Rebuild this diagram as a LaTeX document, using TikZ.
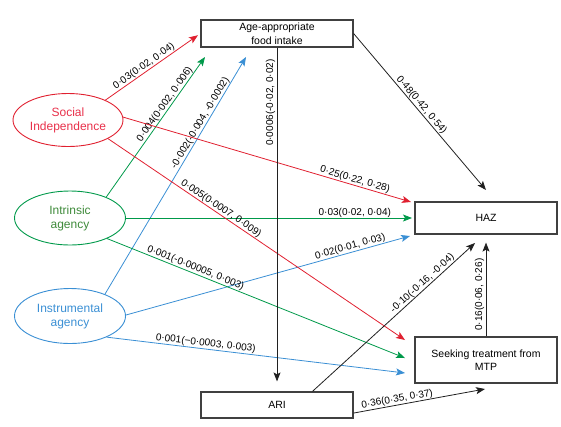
\documentclass[tikz,border=0pt]{standalone}
\usepackage{fontspec}
\setmainfont{Liberation Sans}
\usetikzlibrary{arrows.meta,shapes.geometric}
\definecolor{cred}{HTML}{E02030}
\definecolor{ctred}{HTML}{E8304A}
\definecolor{cgreen}{HTML}{00994A}
\definecolor{cgtext}{HTML}{3E8A3A}
\definecolor{cblue}{HTML}{3A8FD4}
\definecolor{cbox}{HTML}{404040}
\definecolor{cblk}{HTML}{202020}
\begin{document}
\begin{tikzpicture}[x=1pt,y=-1pt,
  box/.style={draw=cbox,line width=1.2pt,minimum width=152pt,minimum height=27pt,
    font=\fontsize{10.5}{13.5}\selectfont,align=center,inner sep=0pt},
  oval/.style={ellipse,draw,line width=0.9pt,minimum width=110pt,minimum height=53pt,
    font=\fontsize{12}{14}\selectfont,align=center,inner sep=0pt},
  conn/.style={line width=0.8pt,-{Stealth[length=9pt,width=7pt,inset=2pt]}},
  lbl/.style={font=\fontsize{10}{12}\selectfont,sloped,above,inner sep=0.5pt,text=black},
  vlbl/.style={font=\fontsize{10}{12}\selectfont,rotate=90,anchor=south,inner sep=1.5pt,text=black},
]
\useasboundingbox (0,0) rectangle (561,426);

% boxes
\node[box] (food) at (277,33.5) {Age-appropriate\\food intake};
\node[box,minimum width=142pt,minimum height=32pt] (haz) at (486,218) {HAZ};
\node[box,minimum width=142pt,minimum height=46pt,font=\fontsize{10.5}{13}\selectfont] (seek) at (486,360) {Seeking treatment from\\MTP};
\node[box,minimum height=26pt] (ari) at (277,405) {ARI};

% ellipses
\node[oval,draw=cred,text=ctred] (soc) at (68,120) {Social\\Independence};
\node[oval,draw=cgreen,text=cgtext,minimum width=111pt,minimum height=54pt] (intr) at (70,218) {Intrinsic\\agency};
\node[oval,draw=cblue,text=cblue,minimum width=111pt,minimum height=55pt] (instr) at (70,316) {Instrumental\\agency};

% free arrow ends
\coordinate (fA) at (205,57);
\coordinate (fB) at (246,57);
\coordinate (hA) at (411,202);
\coordinate (hB) at (412,218);
\coordinate (hC) at (410,236);
\coordinate (sA) at (405,340);
\coordinate (sB) at (405,358);
\coordinate (sC) at (405,373);
\coordinate (hD) at (486,190);
\coordinate (hE) at (475,243);
\coordinate (sD) at (485,389);

% to food intake
\draw[conn,cred,shorten >=3pt] (soc.28) -- (food.west) node[lbl,pos=0.44] {0·03(0·02, 0·04)};
\draw[conn,cgreen] (intr.30) -- (fA) node[lbl,pos=0.64] {0·004(0·002, 0·006)};
\draw[conn,cblue] (instr.32) -- (fB) node[lbl,pos=0.71] {-0·002(-0·004, -0·0002)};

% to HAZ
\draw[conn,cred] (soc.3) -- (hA) node[lbl,pos=0.8] {0·25(0·22, 0·28)};
\draw[conn,cgreen] (intr.east) -- (hB) node[lbl,pos=0.8] {0·03(0·02, 0·04)};
\draw[conn,cblue] (instr.1) -- (hC) node[lbl,pos=0.795] {0·02(0·01, 0·03)};

% to seeking treatment
\draw[conn,cred] (soc.-25) -- (sA) node[lbl,pos=0.37] {0·005(0·0007, 0·009)};
\draw[conn,cgreen] (intr.-29) -- (sB) node[lbl,pos=0.29] {0·001(-0·00005, 0·003)};
\draw[conn,cblue] (instr.-30) -- (sC) node[lbl,pos=0.33] {0·001(−0·0003, 0·003)};

% black arrows
\draw[conn,cblk,shorten >=10pt] (food.south) -- (ari.north) node[vlbl,pos=0.16] {0·0006(-0·02, 0·02)};
\draw[conn,cblk] (food.east) -- (hD) node[lbl,pos=0.48] {0·48(0·42, 0·54)};
\draw[conn,cblk] (ari.21.5) -- (hE) node[lbl,pos=0.70] {-0·10(-0·16, -0·04)};
\draw[conn,cblk,shorten >=8pt] (seek.north) -- (haz.south) node[vlbl,pos=0.41] {0·16(0·06, 0·26)};
\draw[conn,cblk] (ari.-6) -- (sD) node[lbl,pos=0.34] {0·36(0·35, 0·37)};
\end{tikzpicture}
\end{document}
